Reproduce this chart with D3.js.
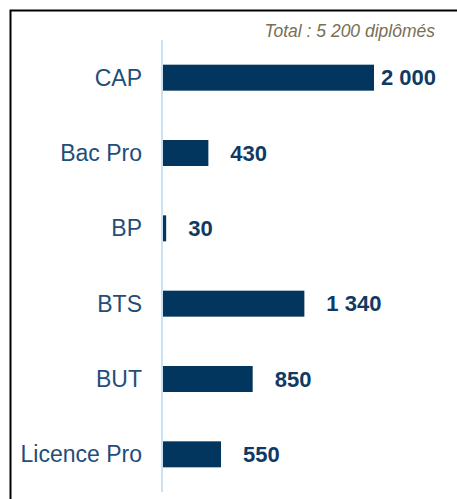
<!DOCTYPE html>
<html>
<head>
<meta charset="utf-8">
<script src="https://cdn.jsdelivr.net/npm/d3@7/dist/d3.min.js"></script>
<style>
  html, body { margin: 0; padding: 0; background: #fff; }
  svg { display: block; }
</style>
</head>
<body>
<svg id="chart" width="457" height="499"></svg>
<script>
// Diplômes délivrés par niveau
const categories = ["CAP", "Bac Pro", "BP", "BTS", "BUT", "Licence Pro"];
const values = [2000, 430, 30, 1340, 850, 550];
const valueLabels = ["2 000", "430", "30", "1 340", "850", "550"];
const totalLabel = "Total : 5 200 diplômés";

const W = 457, H = 499;
const svg = d3.select("#chart");
const font = "'Liberation Sans', Arial, sans-serif";

// frame
svg.append("rect")
  .attr("x", 10.5).attr("y", 10.5)
  .attr("width", W + 20).attr("height", H + 20)
  .attr("fill", "none")
  .attr("stroke", "#000")
  .attr("stroke-width", 2);

const x = d3.scaleLinear().domain([0, 2000]).range([163, 374]);
const y = d3.scaleBand().domain(categories).range([40, 492])
  .paddingInner(0.655).paddingOuter(0.3275);

// vertical baseline
svg.append("line")
  .attr("x1", 162).attr("x2", 162)
  .attr("y1", 40).attr("y2", 492)
  .attr("stroke", "#c9e2f6")
  .attr("stroke-width", 2);

// category labels
svg.append("g").selectAll("text")
  .data(categories)
  .join("text")
  .attr("x", 142)
  .attr("y", d => y(d) + y.bandwidth() / 2)
  .attr("dy", "0.35em")
  .attr("text-anchor", "end")
  .attr("font-family", font)
  .attr("font-size", 23)
  .attr("fill", "#1f4e79")
  .text(d => d);

// bars
svg.append("g").selectAll("rect")
  .data(categories)
  .join("rect")
  .attr("x", x(0))
  .attr("y", d => y(d))
  .attr("width", (d, i) => x(values[i]) - x(0))
  .attr("height", y.bandwidth())
  .attr("fill", "#02365e");

// value labels: fixed gap after the bar, pulled in when near the right edge
const rightLimit = 436;
const vl = svg.append("g").selectAll("text")
  .data(categories)
  .join("text")
  .attr("y", d => y(d) + y.bandwidth() / 2)
  .attr("dy", "0.35em")
  .attr("font-family", font)
  .attr("font-size", 22)
  .attr("font-weight", "bold")
  .attr("fill", "#0e3a63")
  .text((d, i) => valueLabels[i]);
vl.attr("x", function (d, i) {
  const end = x(values[i]);
  const w = this.getComputedTextLength();
  return end + Math.min(22, rightLimit - w - end);
});

// total
svg.append("text")
  .attr("x", 435)
  .attr("y", 37)
  .attr("text-anchor", "end")
  .attr("font-family", font)
  .attr("font-size", 17.5)
  .attr("font-style", "italic")
  .attr("fill", "#787055")
  .text(totalLabel);
</script>
</body>
</html>
